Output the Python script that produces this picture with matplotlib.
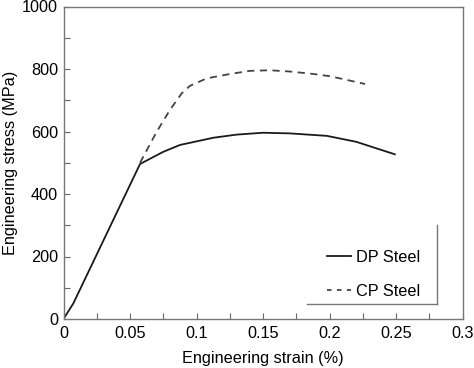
import matplotlib
matplotlib.use("Agg")
import matplotlib.pyplot as plt
from matplotlib.lines import Line2D
import numpy as np

plt.rcParams['font.family'] = ['Liberation Sans', 'DejaVu Sans']

dp_strain = [0.0, 0.0074, 0.0575, 0.075, 0.0876, 0.1126, 0.130, 0.150, 0.170, 0.198, 0.220, 0.249]
dp_stress = [0, 50, 496, 535, 557, 580, 590, 596, 594, 586, 567, 527]

cp_strain = [0.0575, 0.070, 0.080, 0.0888, 0.095, 0.1076, 0.125, 0.140, 0.155, 0.170, 0.188, 0.200, 0.213, 0.2266]
cp_stress = [500, 599, 669, 722, 746, 770, 784, 794, 796, 792, 784, 777, 765, 752]

xticks = [0, 0.05, 0.1, 0.15, 0.2, 0.25, 0.3]
xticklabels = ['0', '0.05', '0.1', '0.15', '0.2', '0.25', '0.3']
yticks = [0, 200, 400, 600, 800, 1000]
labels = ['DP Steel', 'CP Steel']

FS = 11.7

fig = plt.figure(figsize=(4.74, 3.68), dpi=100)
ax = fig.add_axes([63.5/474, 49/368, 399.2/474, 312.5/368])

ax.plot(dp_strain, dp_stress, color='#1a1a1a', lw=1.3, ls='-')
ax.plot(cp_strain, cp_stress, color='#444444', lw=1.3, ls=(0, (4, 3)))

ax.set_xlim(0, 0.3)
ax.set_ylim(0, 1000)
ax.set_xticks(xticks)
ax.set_xticklabels(xticklabels)
ax.set_yticks(yticks)
ax.set_xticks(np.arange(0.025, 0.3, 0.05), minor=True)
ax.set_yticks(np.arange(100, 1000, 200), minor=True)
ax.tick_params(which='both', direction='in', length=4, width=0.8, color='#666666',
               labelsize=FS)
ax.tick_params(axis='x', pad=5)
ax.tick_params(axis='y', pad=4)
for s in ax.spines.values():
    s.set_color('#777777')
    s.set_linewidth(1.0)

ax.set_xlabel('Engineering strain (%)', fontsize=FS, labelpad=7)
ax.set_ylabel('Engineering stress (MPa)', fontsize=FS, labelpad=3)

handles = [Line2D([], [], color='#1a1a1a', lw=1.3, ls='-'),
           Line2D([], [], color='#444444', lw=1.3, ls=(0, (2.5, 3)))]
leg = ax.legend(handles, labels, frameon=False, fontsize=FS,
                loc='upper left', bbox_to_anchor=((327-63.5)/399.2, (319-250)/312.5),
                handlelength=1.5, handletextpad=0.3, labelspacing=1.15,
                borderpad=0, borderaxespad=0)

# L-shaped legend frame
ax.plot([0.9356, 0.9356], [0.048, 0.30], transform=ax.transAxes, color='#777777', lw=1.0, clip_on=False)
ax.plot([0.61, 0.9356], [0.048, 0.048], transform=ax.transAxes, color='#777777', lw=1.0, clip_on=False)

fig.savefig('out.png', dpi=100)
